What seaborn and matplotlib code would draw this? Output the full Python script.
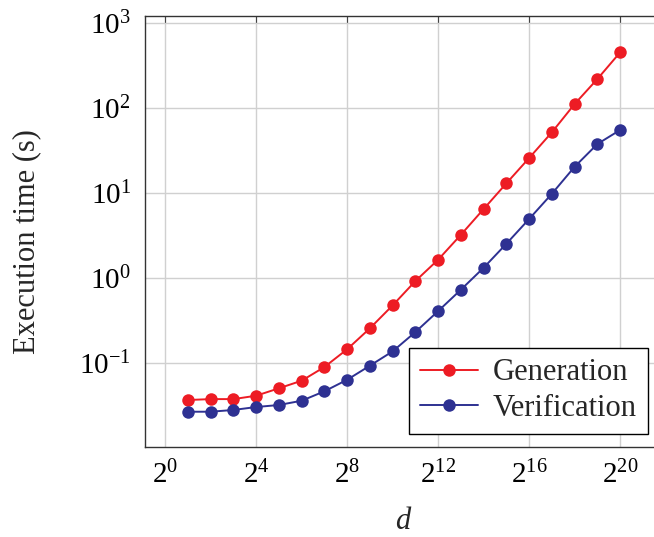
import matplotlib
matplotlib.use("Agg")
import matplotlib.pyplot as plt
import seaborn as sns
import pandas as pd
from matplotlib.ticker import FixedLocator, LogLocator, NullFormatter
from matplotlib.lines import Line2D

# data (x = 2^k)
exponents = list(range(1, 21))
generation = [0.0364, 0.0373, 0.0373, 0.0409, 0.050, 0.0614, 0.089, 0.144, 0.254, 0.473,
              0.914, 1.63, 3.2, 6.43, 12.9, 25.6, 51.4, 110.6, 217.6, 448]
verification = [0.0265, 0.0265, 0.0278, 0.0301, 0.0318, 0.0357, 0.0461, 0.063, 0.0923, 0.136,
                0.2296, 0.405, 0.723, 1.31, 2.51, 4.91, 9.72, 20.2, 37.4, 54.7]
series_names = ["Generation", "Verification"]
colors = ["#ED1C24", "#2E3192"]

df = pd.DataFrame({
    "d": [2 ** k for k in exponents] * 2,
    "time": generation + verification,
    "method": [series_names[0]] * len(exponents) + [series_names[1]] * len(exponents),
})

sns.set_theme(style="whitegrid")
plt.rcParams["font.family"] = ["Liberation Serif", "DejaVu Serif"]
plt.rcParams["mathtext.fontset"] = "custom"
plt.rcParams["mathtext.rm"] = "Liberation Serif"
plt.rcParams["mathtext.it"] = "Liberation Serif:italic"

fig = plt.figure(figsize=(6.54, 5.37), dpi=100)
ax = fig.add_axes([0.2213, 0.1682, 0.793, 0.802])

sns.lineplot(data=df, x="d", y="time", hue="method", palette=colors, marker="o",
             markersize=9, markeredgewidth=0, linewidth=1.4, ax=ax, legend=False)

ax.set_xscale("log", base=2)
ax.set_yscale("log")
ax.set_xlim(2 ** -0.9, 2 ** 21.9)
ax.set_ylim(10 ** -1.988, 10 ** 3.079)

xt = [2 ** k for k in range(0, 21, 4)]
ax.xaxis.set_major_locator(FixedLocator(xt))
ax.set_xticklabels([f"$2^{{{k}}}$" for k in range(0, 21, 4)])
ax.xaxis.set_minor_locator(FixedLocator([]))
yt = [10.0 ** k for k in range(-1, 4)]
ax.yaxis.set_major_locator(FixedLocator(yt))
ax.set_yticklabels([f"$10^{{{k}}}$" for k in range(-1, 4)])
ax.yaxis.set_minor_locator(LogLocator(base=10, subs=range(2, 10)))
ax.yaxis.set_minor_formatter(NullFormatter())

ax.tick_params(which="both", direction="in", top=True, right=True,
               labelsize=21, labelcolor="black")
ax.tick_params(which="major", length=5, width=0.8, pad=10, color="#444444")
ax.tick_params(which="minor", length=3.5, width=0.6, color="#888888")
ax.grid(True, which="major", color="#d0d0d0", linewidth=1)
ax.grid(False, which="minor")
for s in ax.spines.values():
    s.set_color("#333333")
    s.set_linewidth(1)

ax.set_xlabel("$d$", fontsize=22, labelpad=13)
ax.set_ylabel("Execution time (s)", fontsize=22)
ax.yaxis.set_label_coords(-0.2, 0.477)

handles = [Line2D([0], [0], color=c, marker="o", markersize=9, markeredgewidth=0, linewidth=1.4)
           for c in colors]
leg = ax.legend(handles, series_names, loc="lower right", bbox_to_anchor=(0.97, 0.03),
                borderaxespad=0, fontsize=22, fancybox=False, framealpha=1,
                handlelength=1.9, handletextpad=0.5, borderpad=0.35, labelspacing=0.22)
leg.get_frame().set_edgecolor("black")
leg.get_frame().set_linewidth(1)

fig.savefig("out.png", dpi=100)
